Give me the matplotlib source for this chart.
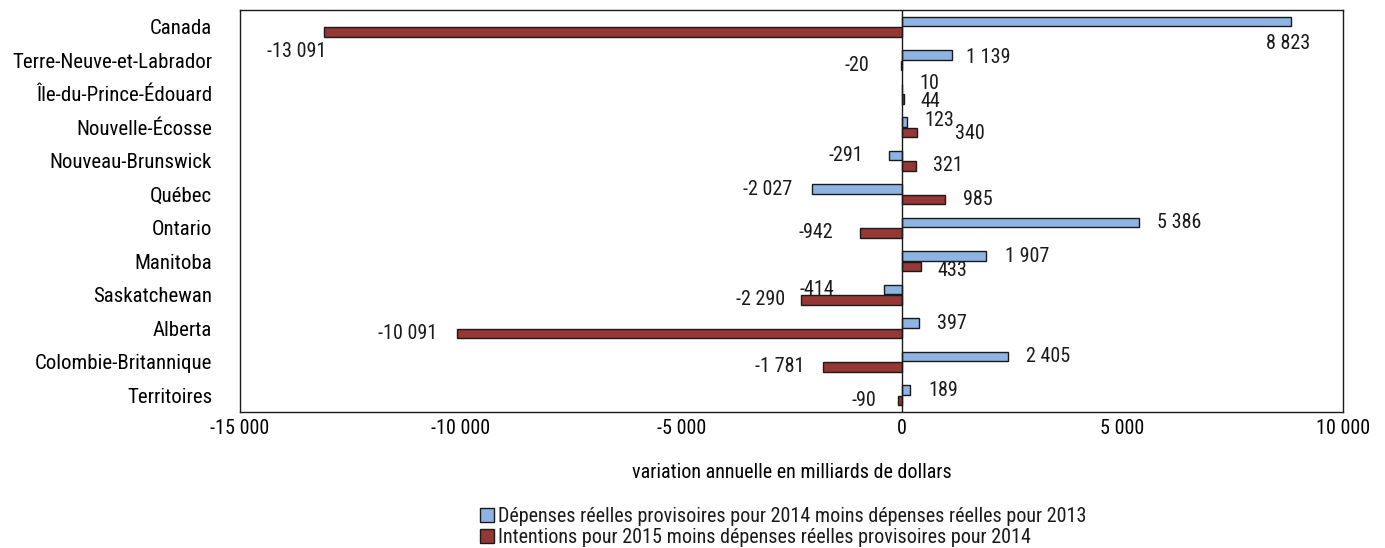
import matplotlib.pyplot as plt
import numpy as np
from matplotlib.ticker import FuncFormatter
from matplotlib.patches import Patch

plt.rcParams['font.family'] = ['Roboto Condensed', 'DejaVu Sans']
plt.rcParams['font.size'] = 14.5
plt.rcParams['text.color'] = '#1a1a1a'

provinces = ["Canada", "Terre-Neuve-et-Labrador", "Île-du-Prince-Édouard", "Nouvelle-Écosse",
             "Nouveau-Brunswick", "Québec", "Ontario", "Manitoba", "Saskatchewan", "Alberta",
             "Colombie-Britannique", "Territoires"]
var_2014 = [8823, 1139, 10, 123, -291, -2027, 5386, 1907, -414, 397, 2405, 189]
var_2015 = [-13091, -20, 44, 340, 321, 985, -942, 433, -2290, -10091, -1781, -90]
xticks = [-15000, -10000, -5000, 0, 5000, 10000]

label_2014 = "Dépenses réelles provisoires pour 2014 moins dépenses réelles pour 2013"
label_2015 = "Intentions pour 2015 moins dépenses réelles provisoires pour 2014"

# label offsets in pixels (dx from bar end, dy downward)
dx_2014 = [-25, 14, 17, 17, -26, -20, 18, 19, -49, 18, 18, 18]
dy_2014 = [22, 2, -5, -2, 0, 0, 0, 0, 0, 0, 0, 0]
dx_2015 = [2, -32, 17, 38, 17, 18, -27, 17, -16, -19, -19, -22]
dy_2015 = [20, 0, 3, 1, 0, 0, 0, 4, 0, 0, 0, 0]

BLUE = '#8db4e2'
RED = '#953735'

fig = plt.figure(figsize=(13.85, 5.48), dpi=100)
ax = fig.add_axes([240 / 1385, 1 - 412 / 548, 1103 / 1385, 402 / 548])

y = np.arange(len(provinces))
h = 0.28
off = 0.155
ax.barh(y - off, var_2014, height=h, color=BLUE, edgecolor='#1a1a1a', linewidth=1.0)
ax.barh(y + off, var_2015, height=h, color=RED, edgecolor='#1a1a1a', linewidth=1.0)
ax.axvline(0, color='#1a1a1a', linewidth=1.0)

def fmt(v):
    return f"{v:,.0f}".replace(",", " ")

for i in range(len(provinces)):
    for vals, dxs, dys, yo in ((var_2014, dx_2014, dy_2014, -off), (var_2015, dx_2015, dy_2015, off)):
        v = vals[i]
        ax.annotate(fmt(v), xy=(v, y[i] + yo), xytext=(dxs[i], -dys[i]),
                    textcoords='offset pixels', ha='left' if v >= 0 else 'right',
                    va='center')

ax.set_xlim(-15000, 10000)
ax.set_ylim(len(provinces) - 0.5, -0.5)
ax.set_yticks(y)
ax.set_yticklabels(provinces, fontsize=15)
ax.set_xticks(xticks)
ax.xaxis.set_major_formatter(FuncFormatter(lambda v, p: fmt(v)))
ax.tick_params(axis='y', length=0, pad=20)
ax.tick_params(axis='x', length=0, pad=5)
for s in ax.spines.values():
    s.set_color('#1a1a1a')
    s.set_linewidth(1.0)
ax.set_xlabel("variation annuelle en milliards de dollars", labelpad=18)

handles = [Patch(facecolor=BLUE, edgecolor='#1a1a1a', label=label_2014),
           Patch(facecolor=RED, edgecolor='#1a1a1a', label=label_2015)]
fig.legend(handles=handles, loc='upper left', bbox_to_anchor=(480 / 1385, 1 - 507 / 548),
           frameon=False, handlelength=0.7, handleheight=0.7, handletextpad=0.2,
           labelspacing=0.1, borderaxespad=0, borderpad=0)

fig.savefig('out.png', dpi=100)
plt.close()
